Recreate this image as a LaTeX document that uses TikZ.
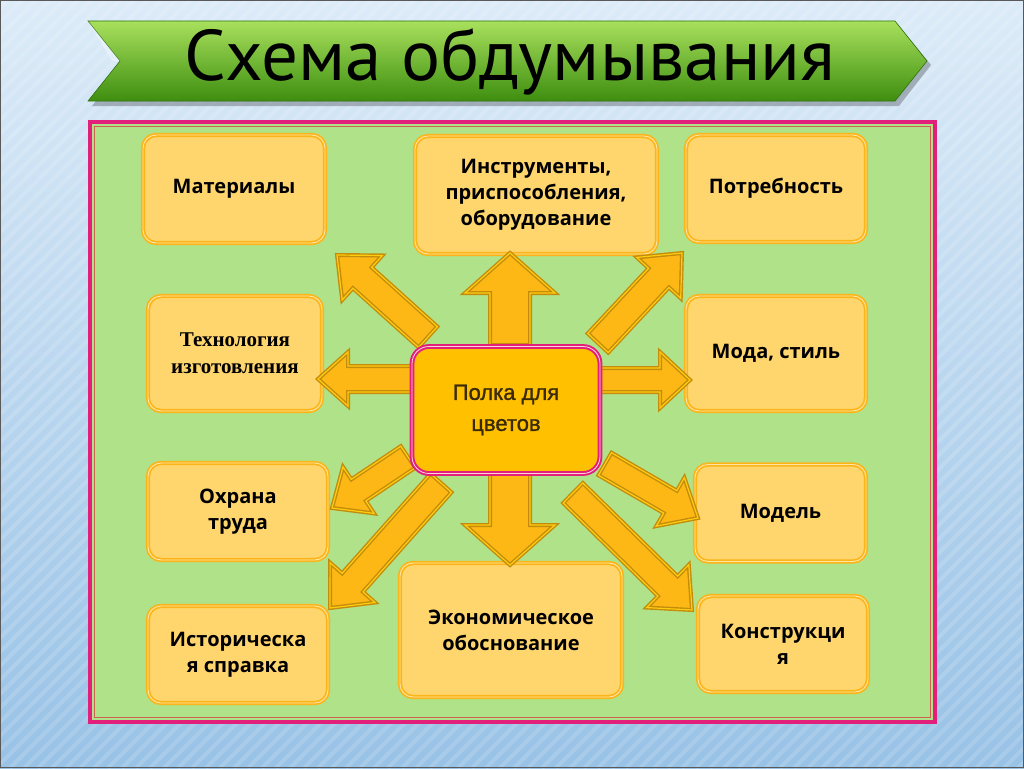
\documentclass[tikz,border=0pt]{standalone}
\usepackage{fontspec}
\setmainfont{Open Sans}
\newfontfamily\titlefont{PT Sans}
\newfontfamily\serfont{Liberation Serif}
\newfontfamily\arialfont[FakeBold=1.2]{Liberation Sans}
\definecolor{bgtop}{HTML}{DCEBF8}
\definecolor{bgbot}{HTML}{98C2E6}
\definecolor{panel}{HTML}{B0E28A}
\definecolor{pinkb}{HTML}{E2207C}
\definecolor{boxfill}{HTML}{FFD66E}
\definecolor{boxline}{HTML}{FBB51A}
\definecolor{boxpale}{HTML}{FFE7A6}
\definecolor{cfill}{HTML}{FFC000}
\definecolor{arrfill}{HTML}{FDB816}
\definecolor{arrline}{HTML}{C48B0C}
\definecolor{gtop}{HTML}{A8E05C}
\definecolor{gbot}{HTML}{3E8E10}
\definecolor{ctext}{HTML}{3A2A08}
\tikzset{
  box/.style={rounded corners=13pt, draw=boxline, double=boxpale, line width=1.7pt,
    double distance=0.9pt, fill=boxfill, align=center, inner sep=2pt,
    font=\bfseries\fontsize{20}{26}\selectfont},
  arr/.style={draw=arrline, double=arrfill!70!yellow, line width=1.4pt, double distance=1.2pt,
    fill=arrfill, line join=miter},
}
\newcommand\barrow[7]{%
  \pgfmathsetmacro\bang{atan2(-(#4-#2),#3-#1)}%
  \pgfmathsetmacro\blen{veclen(#3-#1,#4-#2)}%
  \pgfmathsetmacro\bhb{\blen-#7}%
  \begin{scope}[shift={(#1,#2)},rotate=\bang]
    \draw[arr] (0,-#5)--(\bhb,-#5)--(\bhb,-#6)--(\blen,0)--(\bhb,#6)--(\bhb,#5)--(0,#5)--cycle;
  \end{scope}}
\begin{document}
\begin{tikzpicture}[x=1pt,y=-1pt]
\useasboundingbox (0,0) rectangle (1024,768);
% background
\shade[top color=bgtop, bottom color=bgbot] (0,0) rectangle (1024,768);
\begin{scope}
  \clip (0,0) rectangle (1024,768);
  \foreach \i in {-900,-886,...,1100}
    \draw[white, opacity=0.15, line width=4pt] (\i,768)--(\i+768,0);
\end{scope}
\draw[gray!70!black, line width=1pt] (0.5,0.5) rectangle (1023.5,767.5);
% title banner
\fill[black, opacity=0.25] (92,26)--(899,26)--(931,65)--(899,106)--(92,106)--(124,65)--cycle;
\shade[top color=gtop, bottom color=gbot, draw=gbot!80!black, line width=0.6pt]
  (88,21)--(895,21)--(927,61)--(895,101)--(88,101)--(120,61)--cycle;
\fill[white, opacity=0.35] (88,21)--(120,61)--(112,61)--cycle;
\node (title) at (510,62) {\titlefont\resizebox{650pt}{52pt}{Схема обдумывания}};
% panel
\fill[panel] (90,122) rectangle (935,722);
\draw[pinkb, line width=4pt] (90,122) rectangle (935,722);
\draw[brown!70!pinkb, line width=0.7pt] (94.5,126.5) rectangle (930.5,717.5);
% boxes
\node[box, minimum width=182pt, minimum height=108pt] (mat) at (234,189) {Материалы};
\node[box, minimum width=242pt, minimum height=118pt] (instr) at (536,195) {Инструменты,\\приспособления,\\оборудование};
\node[box, minimum width=180pt, minimum height=107pt] (potr) at (776,188.5) {Потребность};
\node[box, minimum width=174pt, minimum height=115pt, font=\serfont\bfseries\fontsize{21}{27}\selectfont] (tech) at (235,353.5) {Технология\\изготовления};
\node[box, minimum width=180pt, minimum height=115pt] (moda) at (776,353.5) {Мода, стиль};
\node[box, minimum width=180pt, minimum height=97pt] (ohr) at (238,511.5) {Охрана\\труда};
\node[box, minimum width=171pt, minimum height=97pt] (model) at (780.5,513) {Модель};
\node[box, minimum width=180pt, minimum height=97pt] (ist) at (238,654.5) {Историческа\\я справка};
\node[box, minimum width=222pt, minimum height=134pt] (econ) at (511,630) {Экономическое\\обоснование};
\node[box, minimum width=170pt, minimum height=96pt] (konstr) at (783,644) {Конструкци\\я};
% arrows
\barrow{428}{337}{337}{255}{14}{30}{34}
\barrow{412}{379}{318}{379}{13}{27}{30}
\barrow{510}{345}{510}{253}{20}{45}{40}
\barrow{598}{343}{682}{253}{14}{30}{34}
\barrow{600}{380}{690}{380}{12}{28}{30}
\barrow{408}{457}{332}{508}{13}{28}{32}
\barrow{441}{483}{330}{608}{14}{30}{34}
\barrow{510}{472}{510}{565}{20}{45}{40}
\barrow{605}{464}{698}{518}{13}{28}{32}
\barrow{573}{493}{692}{610}{14}{30}{34}
% centre
\node[rounded corners=17pt, draw=pinkb, double=pink!60!white, line width=2pt, double distance=0.8pt,
  fill=cfill, minimum width=188pt, minimum height=127pt, align=center,
  font=\arialfont\fontsize{22}{31}\selectfont, text=ctext] (c) at (506,410) {Полка для\\цветов};
\end{tikzpicture}
\end{document}
